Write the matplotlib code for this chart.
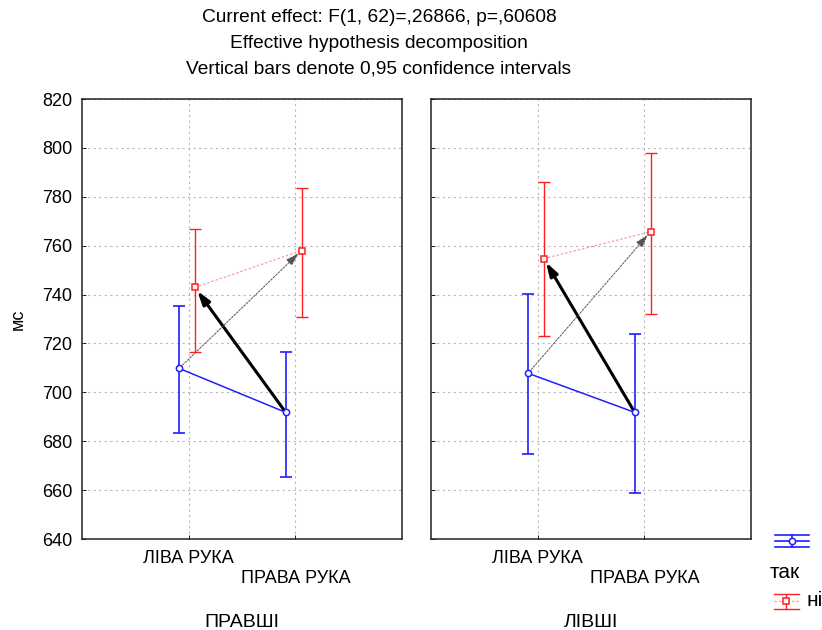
import matplotlib.pyplot as plt
import numpy as np

plt.rcParams['font.family'] = ['Liberation Sans', 'DejaVu Sans']

# categories
hands = ["ЛІВА РУКА", "ПРАВА РУКА"]
groups = ["ПРАВШІ", "ЛІВШІ"]
series = ["так", "ні"]

# means and 0.95 CI limits, per group (rows) and hand (columns)
tak_mean = [[709.8, 691.8], [707.8, 691.8]]
tak_low = [[683.3, 665.3], [674.7, 658.8]]
tak_high = [[735.5, 716.7], [740.4, 723.7]]
ni_mean = [[742.9, 758.0], [754.7, 765.7]]
ni_low = [[716.7, 731.0], [722.9, 732.2]]
ni_high = [[766.9, 783.7], [786.1, 798.0]]

title_lines = ["Current effect: F(1, 62)=,26866, p=,60608",
               "Effective hypothesis decomposition",
               "Vertical bars denote 0,95 confidence intervals"]

BLUE = "#1f1fff"
RED = "#ff1f1f"

W, H = 822, 630
fig = plt.figure(figsize=(W / 100, H / 100), dpi=100)

x = np.arange(len(hands))
off_tak, off_ni = -0.09, 0.058

axes = []
for g, left_px in enumerate([82, 431]):
    ax = fig.add_axes([left_px / W, (H - 539) / H, 320 / W, 440 / H])
    axes.append(ax)
    xt = x + off_tak
    xn = x + off_ni
    m_t = np.array(tak_mean[g]); m_n = np.array(ni_mean[g])
    err_t = [m_t - np.array(tak_low[g]), np.array(tak_high[g]) - m_t]
    err_n = [m_n - np.array(ni_low[g]), np.array(ni_high[g]) - m_n]

    # connecting lines
    ax.plot(xt, m_t, color=BLUE, lw=1.1, zorder=3)
    ax.plot(xn, m_n, color="#ff9c9c", lw=0.9, ls=(0, (2, 1.5)), zorder=3)
    # error bars
    ax.errorbar(xt, m_t, yerr=err_t, fmt="none", ecolor=BLUE, elinewidth=1.2,
                capsize=4, capthick=1.2, zorder=3)
    ax.errorbar(xn, m_n, yerr=err_n, fmt="none", ecolor=RED, elinewidth=1.0,
                capsize=4, capthick=1.0, zorder=3)
    ax.plot(xt, m_t, "o", ms=4.5, mfc="white", mec=BLUE, mew=1.1, zorder=5)
    ax.plot(xn, m_n, "s", ms=4.5, mfc="white", mec=RED, mew=1.1, zorder=5)

    # effect arrows
    ax.annotate("", xy=(xn[0], m_n[0]), xytext=(xt[1], m_t[1]),
                arrowprops=dict(arrowstyle="-|>,head_length=0.8,head_width=0.25",
                                color="black", lw=2.2, shrinkA=2, shrinkB=3),
                zorder=4)
    ax.annotate("", xy=(xn[1], m_n[1]), xytext=(xt[0], m_t[0]),
                arrowprops=dict(arrowstyle="-|>,head_length=0.8,head_width=0.25",
                                color="#555555", lw=0.7, ls=(0, (2, 1.5)),
                                shrinkA=1, shrinkB=3),
                zorder=4)

    ax.set_xlim(-1, 2)
    ax.set_ylim(640, 820)
    ax.set_yticks(np.arange(640, 821, 20))
    ax.set_xticks(x)
    ax.set_xticklabels([hands[0], "\n" + hands[1]], fontsize=13)
    ax.tick_params(axis="both", direction="in", length=3, width=0.6,
                   labelsize=13, pad=8)
    ax.tick_params(axis="y", pad=7)
    ax.grid(True, color="#b8b8b8", lw=0.8, ls=(0, (2, 3)))
    ax.set_axisbelow(True)
    for s in ax.spines.values():
        s.set_linewidth(1.1)
        s.set_edgecolor("#222222")
    ax.set_xlabel(groups[g], fontsize=14, labelpad=20)
    if g == 0:
        ax.set_ylabel("мс", fontsize=13, labelpad=11)
    else:
        ax.set_yticklabels([])

for i, line in enumerate(title_lines):
    fig.text(379 / W, 1 - (17 + 26 * i) / H, line, ha="center", va="center",
             fontsize=13.8)

# legend drawn in pixel coordinates on an overlay
lg = fig.add_axes([0, 0, 1, 1])
lg.set_xlim(0, W); lg.set_ylim(H, 0); lg.axis("off")
for yy in (535, 541, 547):
    lg.plot([775, 809], [yy, yy], color=BLUE, lw=1.2)
lg.plot([792, 792], [535, 547], color=BLUE, lw=1.2)
lg.plot([792], [541], "o", ms=4.5, mfc="white", mec=BLUE, mew=1.1)
lg.text(785, 573, series[0], ha="center", va="center", fontsize=15)
for yy in (594, 609):
    lg.plot([774, 799], [yy, yy], color=RED, lw=1.0)
lg.plot([774, 799], [601, 601], color="#ff9c9c", lw=0.9, ls=(0, (2, 1.5)))
lg.plot([786, 786], [594, 609], color=RED, lw=1.0)
lg.plot([786], [601], "s", ms=4.5, mfc="white", mec=RED, mew=1.1)
lg.text(806, 601, series[1], ha="left", va="center", fontsize=15)

fig.savefig("out.png", dpi=100)
